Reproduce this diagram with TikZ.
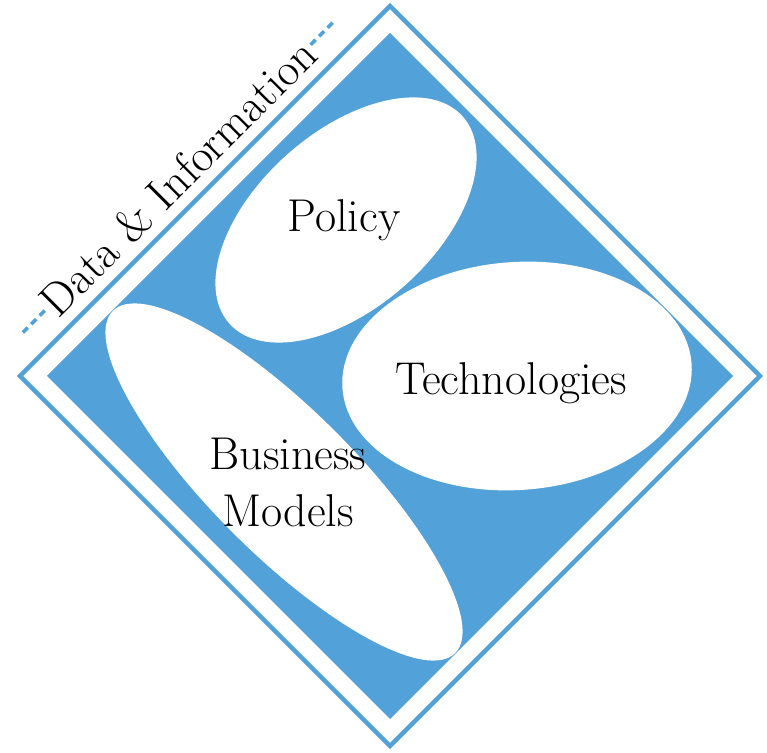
\documentclass[tikz,border=0pt]{standalone}
\usepackage{tikz}
\usetikzlibrary{calc}

\definecolor{diamondblue}{RGB}{82,161,216}

\tikzset{
  field/.style={fill=white},
  label/.style={anchor=base, text=black},
  dashes/.style={diamondblue, line width=3.5pt, dash pattern=on 7pt off 5pt}
}

\begin{document}
\begin{tikzpicture}[x=1pt,y=1pt,line join=miter,font=\fontsize{46}{57}\selectfont]
  \useasboundingbox (0,0) rectangle (767,752);

  % frame and filled diamond
  \draw[diamondblue, line width=4.5pt] (20,376) -- (390,746) -- (760,376) -- (390,6) -- cycle;
  \fill[diamondblue] (47,376) -- (390,719) -- (733,376) -- (390,33) -- cycle;

  % the three fields
  \fill[field, rotate around={41.5:(346,532)}] (346,532) ellipse (156pt and 88pt);
  \fill[field, rotate around={4:(517,376)}] (517,376) ellipse (175pt and 114pt);
  \fill[field, rotate around={-45:(284,270)}] (284,270) ellipse (242pt and 72pt);

  \node[label] (policy) at (344,520) {Policy};
  \node[label] (tech) at (511,357) {Technologies};
  \node[align=center] (business) at (288,270) {Business\\Models};

  % heading along the upper left edge
  \node[label, rotate=45, inner sep=3pt] (data) at (189,563) {Data \& Information};
  \draw[dashes] (data.west) -- ++(225:34pt);
  \draw[dashes] (data.east) -- ++(45:34pt);

\end{tikzpicture}
\end{document}
